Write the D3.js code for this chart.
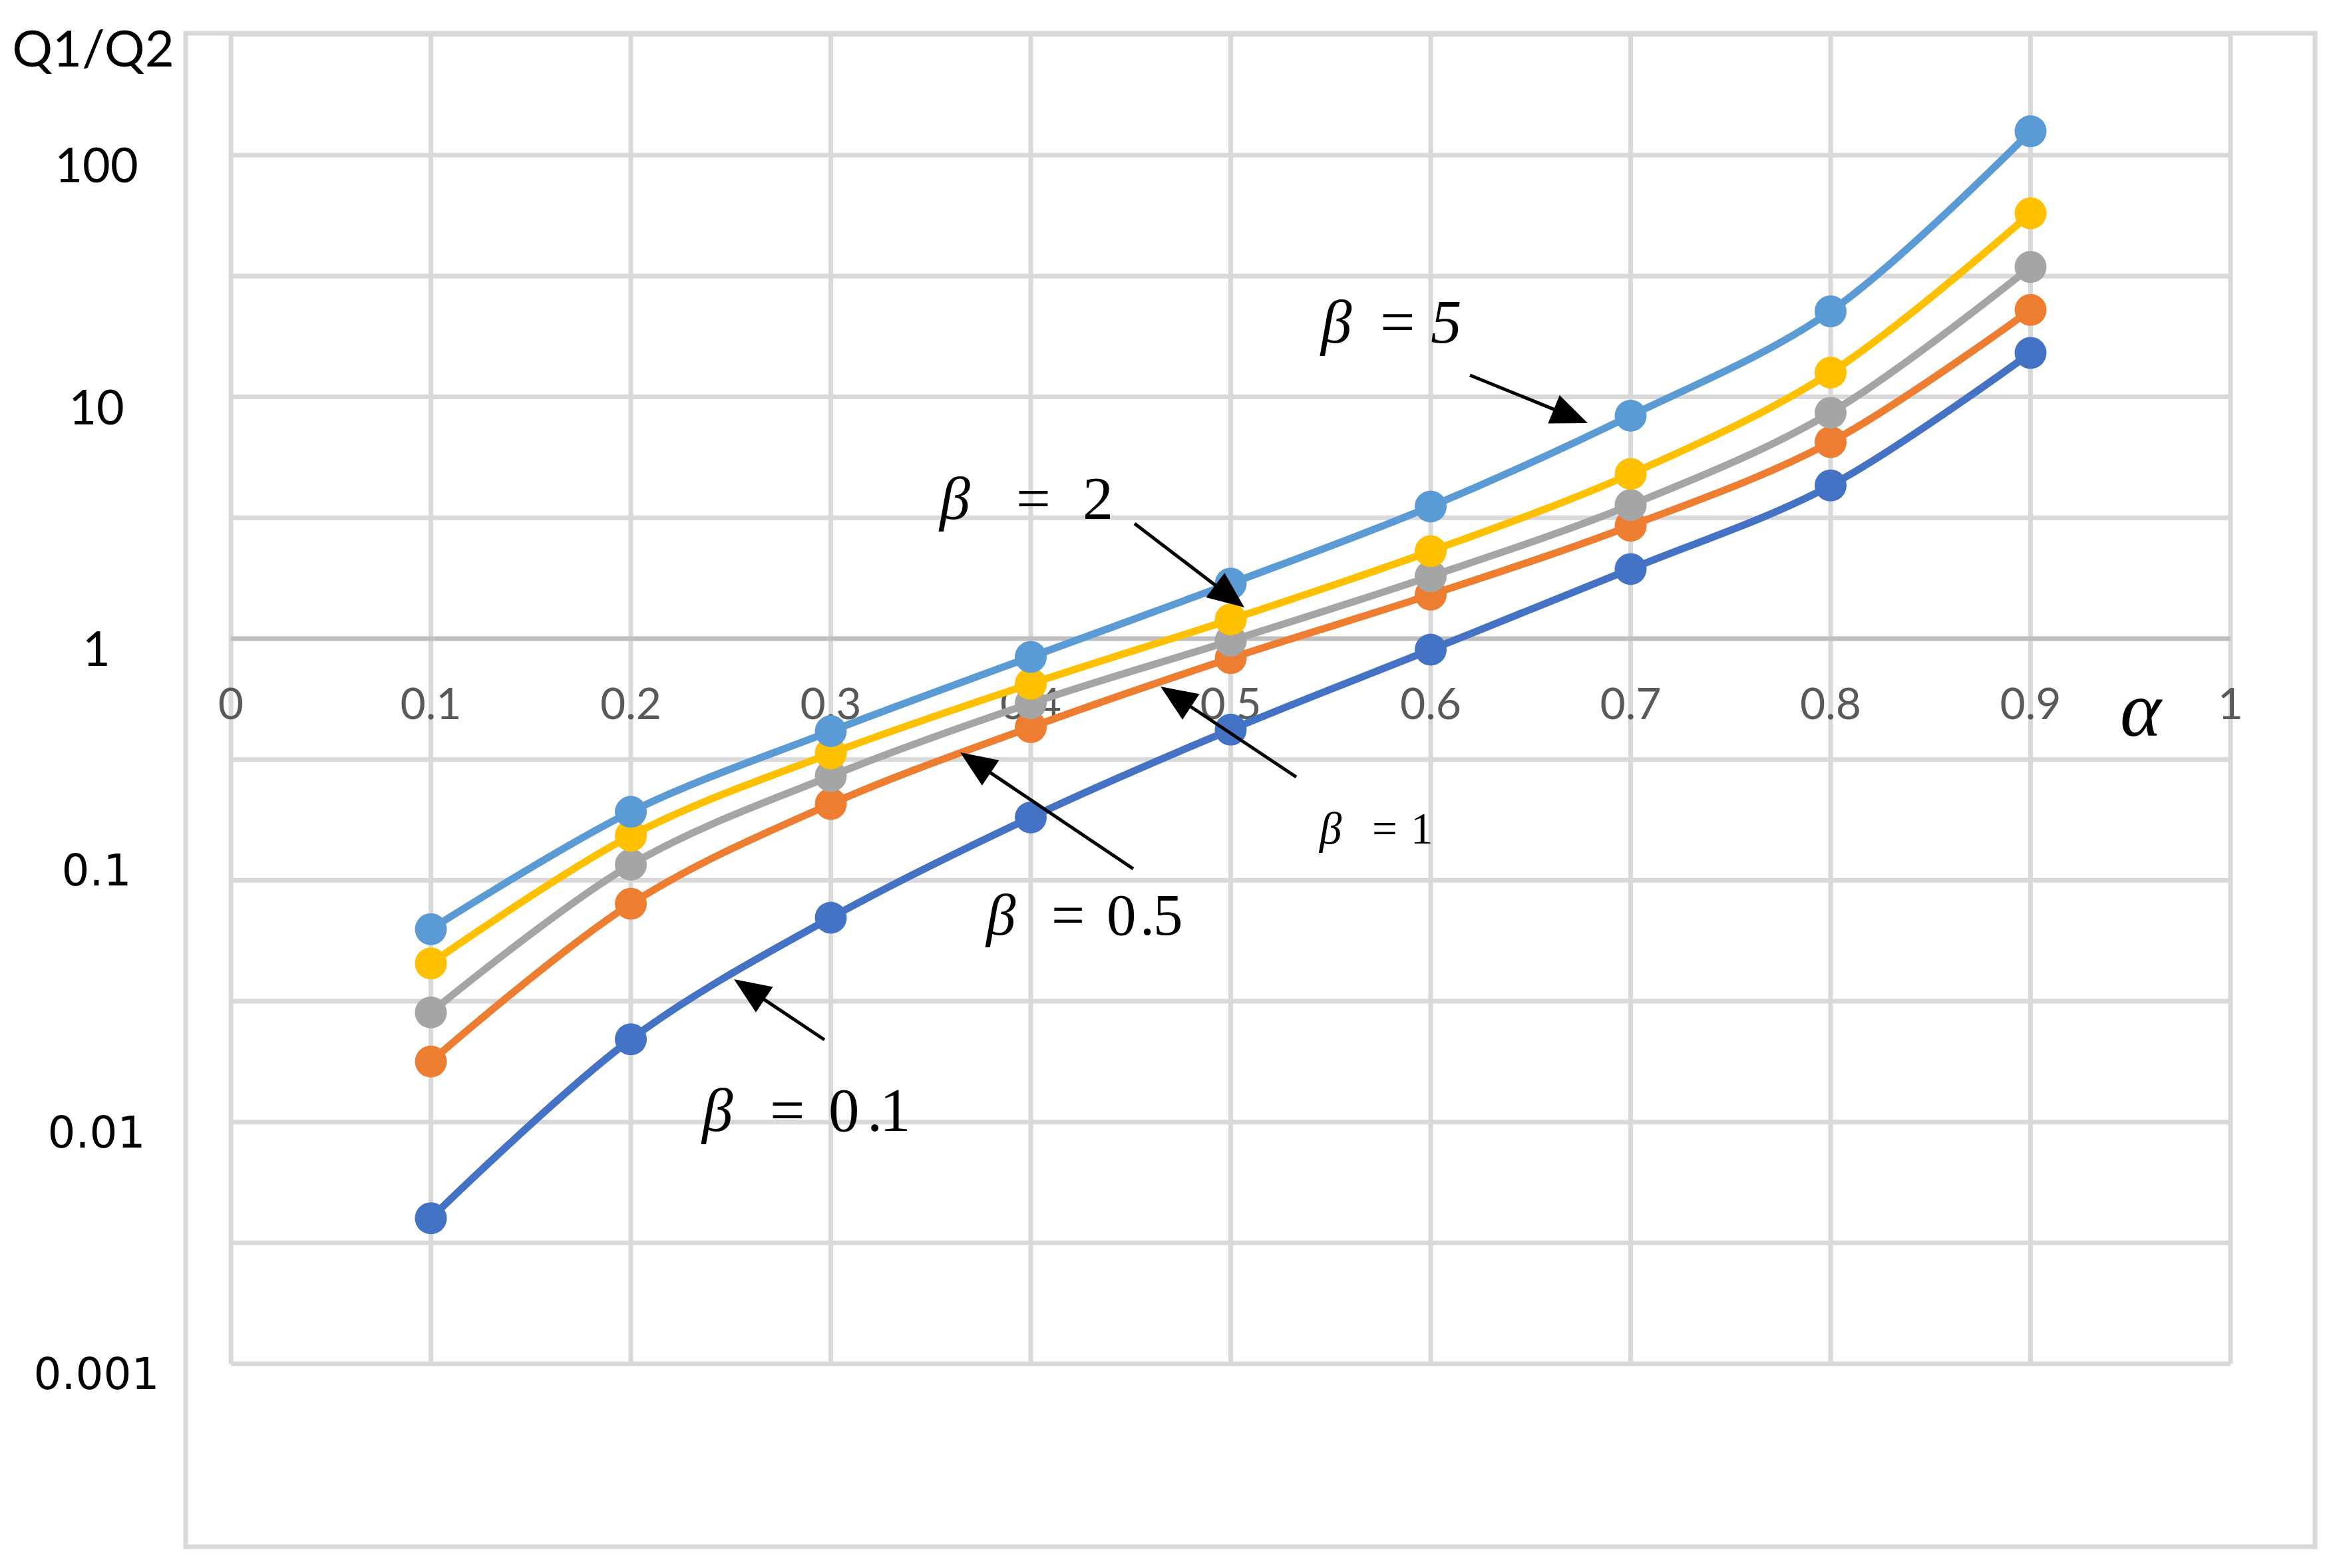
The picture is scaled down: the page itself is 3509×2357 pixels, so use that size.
<!DOCTYPE html>
<html><head><meta charset="utf-8">
<script src="https://cdn.jsdelivr.net/npm/d3@7"></script>
<style>body{margin:0;background:#fff}</style>
</head><body>
<svg id="chart" width="3509" height="2357" xmlns="http://www.w3.org/2000/svg"></svg>
<script>
// ---------------- data ----------------
const alphaValues = [0.1, 0.2, 0.3, 0.4, 0.5, 0.6, 0.7, 0.8, 0.9];
const seriesNames = ["β = 0.1", "β = 0.5", "β = 1", "β = 2", "β = 5"];
const q_beta01 = [0.0040, 0.022, 0.070, 0.182, 0.42, 0.90, 1.94, 4.3, 15.2];
const q_beta05 = [0.0178, 0.080, 0.207, 0.43, 0.83, 1.52, 2.93, 6.5, 22.9];
const q_beta1  = [0.0284, 0.116, 0.270, 0.54, 0.98, 1.81, 3.57, 8.6, 34.5];
const q_beta2  = [0.0453, 0.153, 0.335, 0.65, 1.20, 2.30, 4.8, 12.6, 57.5];
const q_beta5  = [0.0628, 0.192, 0.414, 0.84, 1.69, 3.52, 8.36, 22.6, 125.6];
const xTickValues = [0, 0.1, 0.2, 0.3, 0.4, 0.5, 0.6, 0.7, 0.8, 0.9, 1];
const xTickLabels = ["0", "0.1", "0.2", "0.3", "0.4", "0.5", "0.6", "0.7", "0.8", "0.9", "1"];
const yTickValues = [0.001, 0.01, 0.1, 1, 10, 100];
const yTickLabels = ["0.001", "0.01", "0.1", "1", "10", "100"];
const yAxisTitle = "Q1/Q2";
const xAxisTitle = "α";

// ---------------- styles / layout ----------------
const seriesColors = ["#4472C4", "#ED7D31", "#A5A5A5", "#FFC000", "#5B9BD5"];
const W = 3509, H = 2357;
const plot = {left: 347, right: 3352, top: 51.6, bottom: 2050};
const gridColor = "#d9d9d9";

const svg = d3.select("#chart");
svg.append("rect").attr("width", W).attr("height", H).attr("fill", "#fff");

const x = d3.scaleLinear().domain([0, 1]).range([plot.left, plot.right]);
const y = d3.scaleLog().domain([0.001, Math.pow(10, 2.5)]).range([plot.bottom, plot.top]);

// outer chart border
svg.append("rect").attr("x", 279).attr("y", 50).attr("width", 3479 - 279).attr("height", 2325 - 50)
  .attr("fill", "none").attr("stroke", gridColor).attr("stroke-width", 7);

// horizontal gridlines (half decades)
const hGrid = d3.range(-3, 2.51, 0.5).map(e => Math.pow(10, e));
svg.append("g").selectAll("line").data(hGrid.filter(v => Math.abs(Math.log10(v)) > 1e-9)).join("line")
  .attr("x1", plot.left).attr("x2", plot.right)
  .attr("y1", d => y(d)).attr("y2", d => y(d))
  .attr("stroke", gridColor).attr("stroke-width", 7);

// vertical gridlines
svg.append("g").selectAll("line").data(xTickValues).join("line")
  .attr("x1", d => x(d)).attr("x2", d => x(d))
  .attr("y1", plot.top).attr("y2", plot.bottom)
  .attr("stroke", gridColor).attr("stroke-width", 7);

// x axis line at y = 1
svg.append("line").attr("x1", plot.left).attr("x2", plot.right)
  .attr("y1", y(1)).attr("y2", y(1)).attr("stroke", "#bfbfbf").attr("stroke-width", 7);

// x tick labels
svg.append("g").selectAll("text").data(xTickValues).join("text")
  .attr("x", d => x(d)).attr("y", y(1) + 121)
  .attr("text-anchor", "middle")
  .attr("font-family", "Lato, 'Open Sans', sans-serif").attr("font-size", 66)
  .attr("fill", "#595959")
  .text((d, i) => xTickLabels[i]);

// y tick labels
svg.append("g").selectAll("text").data(yTickValues).join("text")
  .attr("x", 145).attr("y", d => y(d) + (d >= 1 ? 41 : (d === 0.1 ? 8 : 38)))
  .attr("text-anchor", "middle")
  .attr("font-family", d => d >= 1 ? "Lato, 'Open Sans', sans-serif" : "'DejaVu Sans', sans-serif")
  .attr("font-size", d => d >= 1 ? 72 : 66)
  .attr("fill", "#000")
  .text((d, i) => yTickLabels[i]);

// y axis title
svg.append("text").attr("x", 140).attr("y", 100).attr("text-anchor", "middle")
  .attr("font-family", "Lato, 'Open Sans', sans-serif").attr("font-size", 76).attr("fill", "#000")
  .text(yAxisTitle);

// x axis title (alpha)
svg.append("text").attr("x", 3186).attr("y", 1106)
  .attr("font-family", "'Liberation Serif', 'Times New Roman', serif").attr("font-style", "italic")
  .attr("font-size", 118).attr("fill", "#000").text(xAxisTitle);

// ---------------- series ----------------
const allSeries = [q_beta01, q_beta05, q_beta1, q_beta2, q_beta5];
const line = d3.line().x(d => x(d[0])).y(d => y(d[1])).curve(d3.curveCatmullRom.alpha(0.5));
allSeries.forEach((vals, si) => {
  const pts = alphaValues.map((a, i) => [a, vals[i]]);
  const g = svg.append("g").attr("class", "series").attr("data-name", seriesNames[si]);
  g.append("path").attr("d", line(pts)).attr("fill", "none")
    .attr("stroke", seriesColors[si]).attr("stroke-width", 11).attr("stroke-linejoin", "round");
  g.selectAll("circle").data(pts).join("circle")
    .attr("cx", d => x(d[0])).attr("cy", d => y(d[1])).attr("r", 24)
    .attr("fill", seriesColors[si]);
});

// ---------------- annotations ----------------
const serif = "'Liberation Serif', 'Times New Roman', serif";
const annotations = [
  {size: 93, base: 515, parts: [{t: "β", x: 1985, i: true}, {t: "=", x: 2074}, {t: "5", x: 2150, i: true}],
   arrow: [2209, 564, 2386, 636]},
  {size: 92, base: 780, parts: [{t: "β", x: 1412, i: true}, {t: "=", x: 1527}, {t: "2", x: 1627}],
   arrow: [1705, 787, 1870, 913]},
  {size: 67, base: 1268, parts: [{t: "β", x: 1983, i: true}, {t: "=", x: 2062}, {t: "1", x: 2120}],
   arrow: [1948, 1168, 1744, 1032]},
  {size: 89, base: 1405, parts: [{t: "β", x: 1482, i: true}, {t: "=", x: 1580}, {t: "0", x: 1663}, {t: ".", x: 1713}, {t: "5", x: 1733}],
   arrow: [1703, 1306, 1443, 1131]},
  {size: 93, base: 1700, parts: [{t: "β", x: 1055, i: true}, {t: "=", x: 1157}, {t: "0", x: 1245}, {t: ".", x: 1303}, {t: "1", x: 1322}],
   arrow: [1239, 1563, 1103, 1472]}
];
const ag = svg.append("g");
annotations.forEach(a => {
  const txt = ag.append("text").attr("y", a.base).attr("font-family", serif)
    .attr("font-size", a.size).attr("fill", "#000");
  a.parts.forEach(p => {
    txt.append("tspan").attr("x", p.x).attr("font-style", p.i ? "italic" : "normal").text(p.t);
  });
  const [x1, y1, x2, y2] = a.arrow;
  const dx = x2 - x1, dy = y2 - y1, L = Math.hypot(dx, dy);
  const ux = dx / L, uy = dy / L, hl = 55, hw = 23;
  const bx = x2 - ux * hl, by = y2 - uy * hl;
  ag.append("line").attr("x1", x1).attr("y1", y1).attr("x2", bx + ux * 5).attr("y2", by + uy * 5)
    .attr("stroke", "#000").attr("stroke-width", 5);
  ag.append("path")
    .attr("d", `M${x2},${y2}L${bx - uy * hw},${by + ux * hw}L${bx + uy * hw},${by - ux * hw}Z`)
    .attr("fill", "#000");
});
</script>
</body></html>
